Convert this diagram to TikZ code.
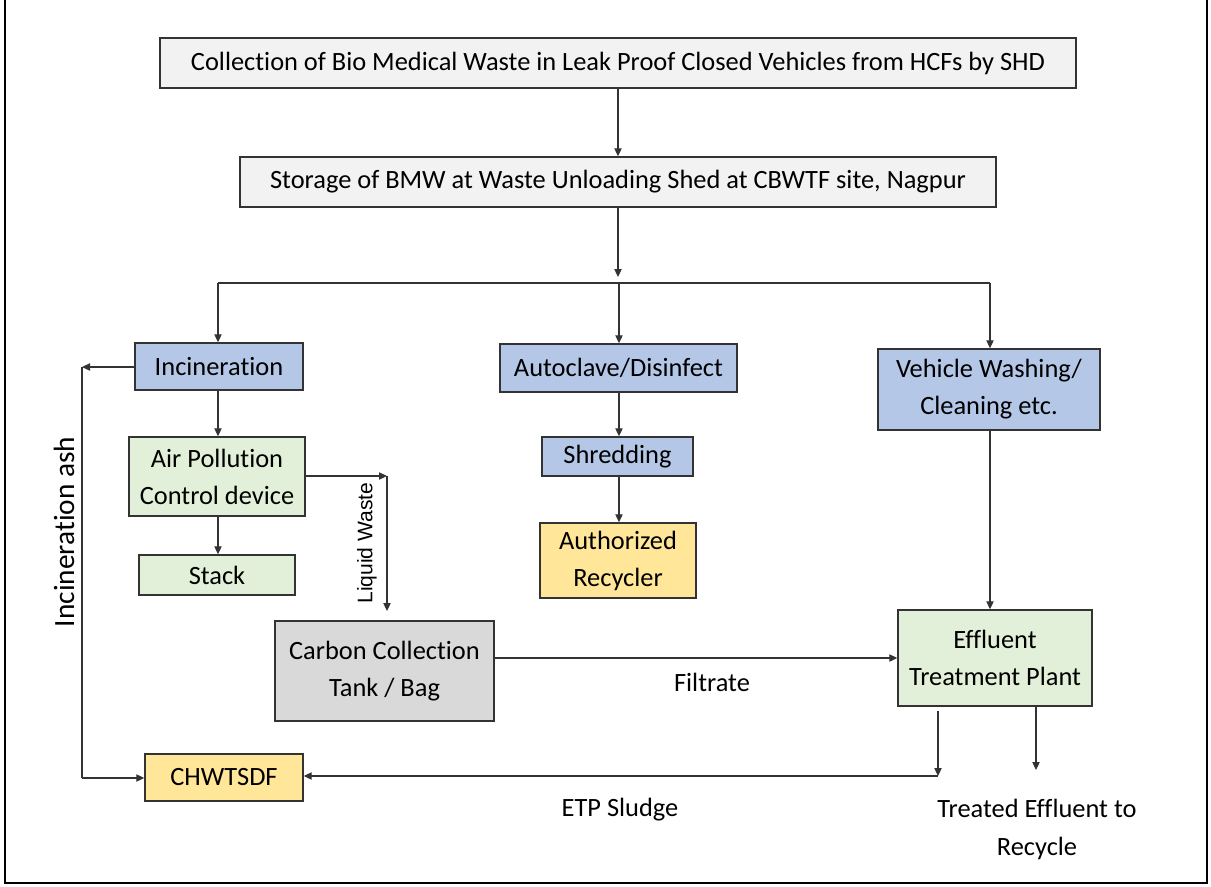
\documentclass[tikz,border=0pt]{standalone}
\usepackage{fontspec}
\setmainfont{Carlito}[Ligatures=NoCommon]
\newfontfamily\arialf{Liberation Sans}
\usetikzlibrary{arrows.meta}
\definecolor{cgrayl}{HTML}{F2F2F2}
\definecolor{cblue}{HTML}{B4C7E7}
\definecolor{cgreen}{HTML}{E2F0D9}
\definecolor{cyellow}{HTML}{FFE699}
\definecolor{cgrayd}{HTML}{D9D9D9}
\newcommand\bx[7]{\node[box, fill=#6, minimum width={(#4-#2)*0.75pt}, minimum height={(#5-#3)*0.75pt}] (#1) at ({(#2+#4)/2},{(#3+#5)/2}) {#7};}
\begin{document}
\begin{tikzpicture}[x=0.75pt,y=-0.75pt,
  box/.style={draw=black!80, line width=1.1pt, inner sep=0pt, align=center, font=\fontsize{19.8}{27.75}\selectfont},
  ln/.style={draw=black!80, line width=0.8pt},
  arr/.style={ln, -{Triangle[length=6pt,width=5.5pt]}},
  lbl/.style={inner sep=0pt, align=center, font=\fontsize{19.8}{28}\selectfont}]
\useasboundingbox (0,0) rectangle (1211,886);
\draw[line width=1.5pt] (5,0) -- (5,883) -- (1207,883) -- (1207,0);

\bx{coll}{160}{38}{1076}{88}{cgrayl}{Collection of Bio Medical Waste in Leak Proof Closed Vehicles from HCFs by SHD}
\bx{stor}{240}{157}{996}{207}{cgrayl}{Storage of BMW at Waste Unloading Shed at CBWTF site, Nagpur}
\bx{incin}{135}{343}{303}{390}{cblue}{Incineration}
\bx{auto}{500}{344}{737}{392}{cblue}{Autoclave/Disinfect}
\bx{veh}{878}{349}{1100}{430}{cblue}{Vehicle Washing/\\Cleaning etc.}
\bx{apc}{129}{437}{305}{516}{cgreen}{Air Pollution\\Control device}
\bx{shred}{542}{437}{693}{476}{cblue}{Shredding}
\bx{stack}{139}{555}{295}{595}{cgreen}{Stack}
\bx{recy}{540}{523}{696}{598}{cyellow}{Authorized\\Recycler}
\bx{carb}{275}{621}{494}{721}{cgrayd}{Carbon Collection\\Tank / Bag}
\bx{etp}{898}{610}{1092}{706}{cgreen}{Effluent\\Treatment Plant}
\bx{chw}{145}{754}{303}{801}{cyellow}{CHWTSDF}

% top flow
\coordinate (jtip) at (618,277);
\coordinate (jl) at (218,283);
\coordinate (jm) at (619,283);
\coordinate (jr) at (990,283);
\draw[arr] (coll) -- (stor);
\draw[arr] (stor.south) -- (jtip);
\draw[ln] (jl) -- (jr);
\draw[arr] (jl) -- (jl |- incin.north);
\draw[arr] (jm) -- (jm |- auto.north);
\draw[arr] (jr) -- (jr |- veh.north);

% incineration branch
\draw[arr] (incin.south -| jl) -- (jl |- apc.north);
\draw[arr] (apc.south -| jl) -- (jl |- stack.north);
\coordinate (ashtop) at (82,367);
\coordinate (ashbot) at (82,778);
\draw[arr] (incin.west |- ashtop) -- (ashtop);
\draw[ln] (ashtop) -- (ashbot);
\draw[arr] (ashbot) -- (chw.west |- ashbot);
\node[lbl, rotate=90, font=\fontsize{22}{26}\selectfont] (ashlbl) at (64,532) {Incineration ash};

% liquid waste
\coordinate (lw) at (387,476);
\coordinate (lwend) at (387,611);
\draw[arr] (apc.east |- lw) -- (lw);
\draw[arr] (lw) -- (lwend);
\node[lbl, rotate=90, font=\arialf\fontsize{15.8}{18}\selectfont] (lwlbl) at (367,543) {Liquid Waste};

% autoclave branch
\draw[arr] (auto.south -| jm) -- (jm |- shred.north);
\draw[arr] (shred.south -| jm) -- (jm |- recy.north);

% vehicle / ETP
\draw[arr] (veh.south -| jr) -- (jr |- etp.north);
\draw[arr] (carb.east |- etp.west) -- (etp.west);
\node[lbl] (filt) at (712,682) {Filtrate};

\coordinate (s1) at (938,776);
\coordinate (s2) at (1036,770);
\draw[arr, shorten <=3pt] (etp.south -| s1) -- (s1);
\draw[arr] (s1) -- (chw.east |- s1);
\draw[arr] (etp.south -| s2) -- (s2);
\node[lbl] (sludge) at (620,810) {ETP Sludge};
\node[lbl, font=\fontsize{19.8}{28.5}\selectfont] (treat) at (1037,829) {Treated Effluent to\\Recycle};
\end{tikzpicture}
\end{document}
